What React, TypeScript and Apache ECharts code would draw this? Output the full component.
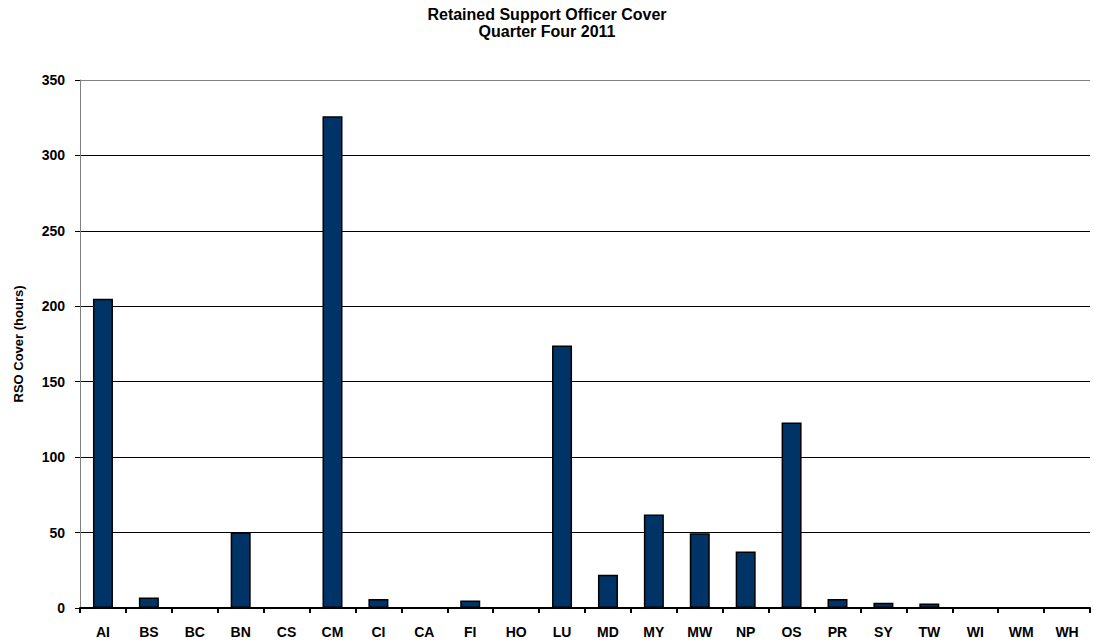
import React, { useEffect, useRef } from "react";
import * as echarts from "echarts";

const categories = ["AI", "BS", "BC", "BN", "CS", "CM", "CI", "CA", "FI", "HO", "LU", "MD", "MY", "MW", "NP", "OS", "PR", "SY", "TW", "WI", "WM", "WH"];
const rsoCover = [205, 7, 0, 50, 0, 326, 6, 0, 5, 0, 174, 22, 62, 49.5, 37.5, 123, 6, 3.5, 3, 0, 0, 0];
const titleLines = ["Retained Support Officer Cover", "Quarter Four 2011"];
const yAxisName = "RSO Cover (hours)";

export default function App() {
  const ref = useRef<HTMLDivElement>(null);
  useEffect(() => {
    document.body.style.margin = "0";
    if (!ref.current) return;
    const chart = echarts.init(ref.current, null, { renderer: "svg" });
    const font = "'Liberation Sans', Arial, sans-serif";
    chart.setOption({
      animation: false,
      backgroundColor: "#ffffff",
      title: {
        text: titleLines.join("\n"),
        left: "center",
        top: 1,
        textStyle: { fontFamily: font, fontWeight: "bold", fontSize: 16, color: "#000", lineHeight: 17 },
      },
      grid: { left: 80, right: 4, top: 80, bottom: 35, containLabel: false },
      xAxis: {
        type: "category",
        data: categories,
        axisLine: { show: true, lineStyle: { color: "#000", width: 2 } },
        axisTick: { show: true, interval: 0, length: 5, lineStyle: { color: "#000", width: 2 } },
        axisLabel: { interval: 0, margin: 17, fontFamily: font, fontWeight: "bold", fontSize: 14, color: "#000" },
        splitLine: { show: false },
      },
      yAxis: {
        type: "value",
        min: 0,
        max: 350,
        interval: 50,
        name: yAxisName,
        nameLocation: "middle",
        nameGap: 55,
        nameRotate: 90,
        nameTextStyle: { fontFamily: font, fontWeight: "bold", fontSize: 13, color: "#000" },
        axisLine: { show: true, lineStyle: { color: "#808080", width: 1 } },
        axisTick: { show: true, length: 5, lineStyle: { color: "#000" } },
        axisLabel: { margin: 15, fontFamily: font, fontWeight: "bold", fontSize: 14, color: "#000" },
        splitLine: {
          show: true,
          lineStyle: { color: ["#000", "#000", "#000", "#000", "#000", "#000", "#000", "#808080"], width: 1 },
        },
      },
      series: [
        {
          type: "bar",
          data: rsoCover,
          barWidth: 20,
          itemStyle: { color: "#003366", borderColor: "#000", borderWidth: 1.5 },
        },
      ],
    });
    return () => chart.dispose();
  }, []);
  return <div ref={ref} style={{ width: 1094, height: 643 }} />;
}
